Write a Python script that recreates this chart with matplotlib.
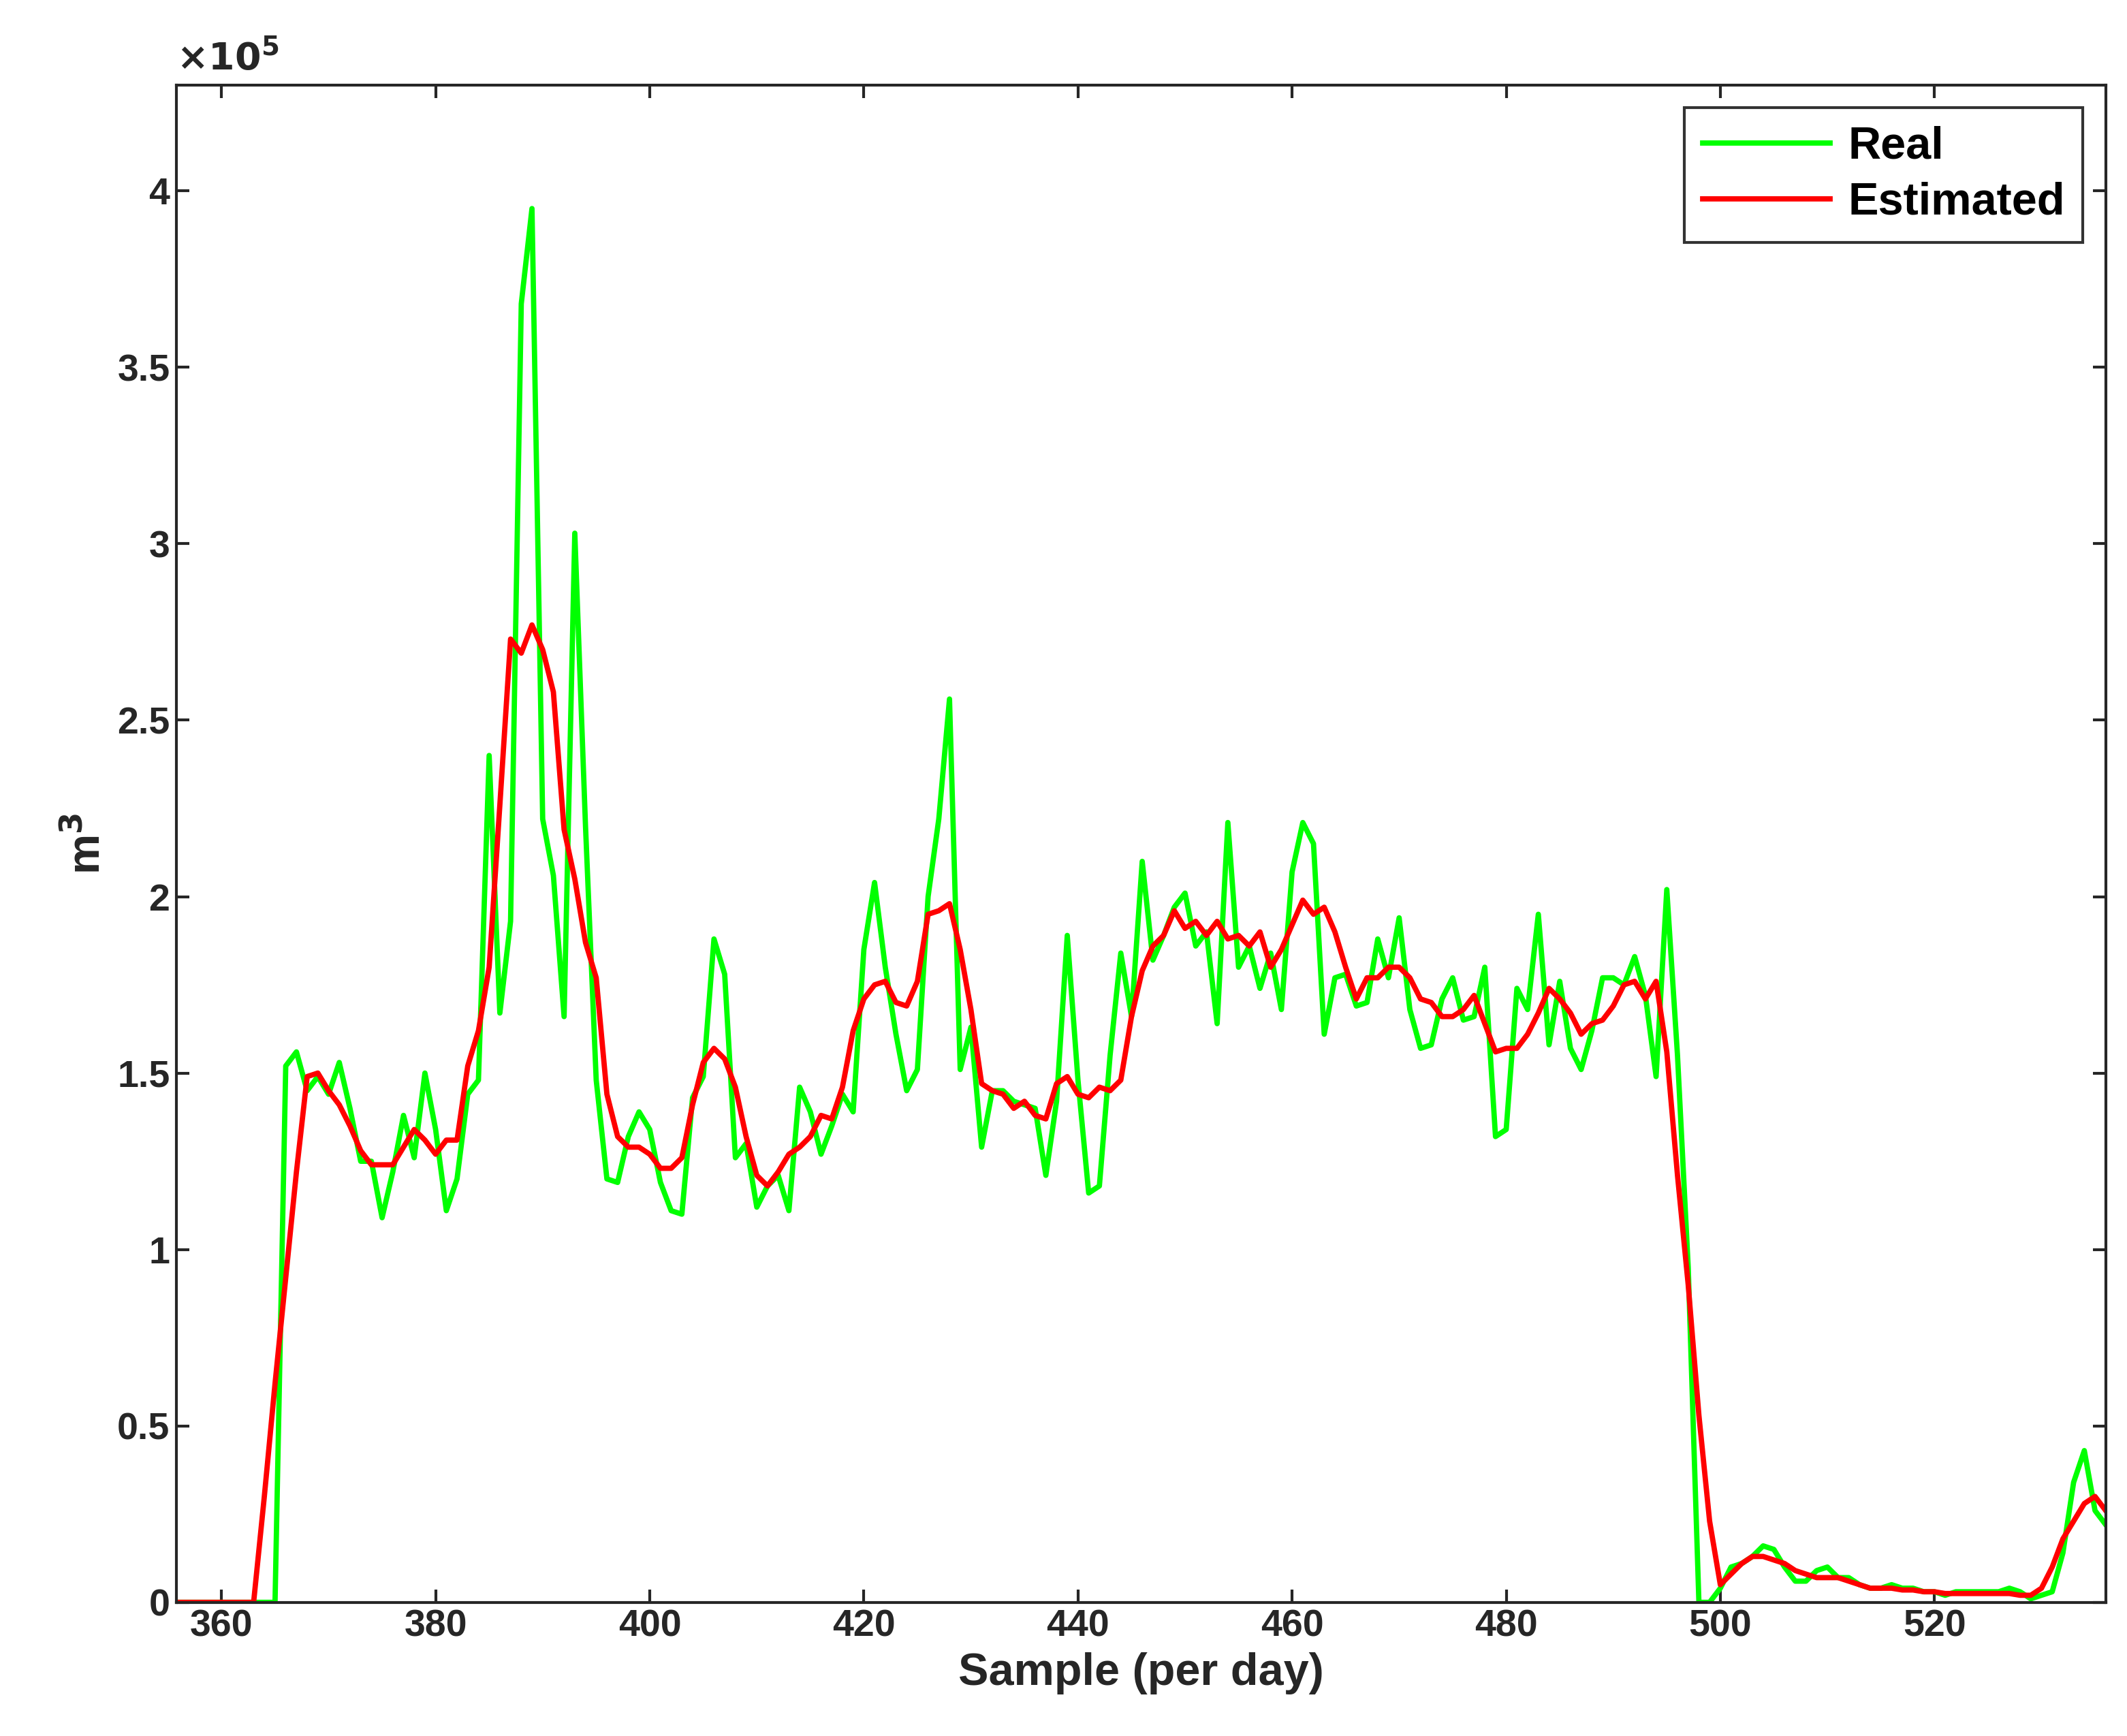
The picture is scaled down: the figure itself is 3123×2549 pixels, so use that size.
import numpy as np
import matplotlib
matplotlib.use('Agg')
import matplotlib.pyplot as plt
from matplotlib.ticker import FuncFormatter

plt.rcParams['font.family'] = ['Liberation Sans', 'DejaVu Sans']
plt.rcParams['font.weight'] = 'bold'

samples = np.arange(356, 537)

# values in units of 1e5 m^3, one per sample 356..536
real = [0]*10 + [
  1.52, 1.56, 1.45, 1.49, 1.44, 1.53, 1.40, 1.25, 1.25, 1.09,   # 366-375
  1.22, 1.38, 1.26, 1.50, 1.34, 1.11, 1.20, 1.44, 1.48, 2.40,   # 376-385
  1.67, 1.93, 3.68, 3.95, 2.22, 2.06, 1.66, 3.03, 2.20, 1.48,   # 386-395
  1.20, 1.19, 1.32, 1.39, 1.34, 1.19, 1.11, 1.10, 1.43, 1.49,   # 396-405
  1.88, 1.78, 1.26, 1.30, 1.12, 1.18, 1.21, 1.11, 1.46, 1.39,   # 406-415
  1.27, 1.35, 1.44, 1.39, 1.85, 2.04, 1.80, 1.61, 1.45, 1.51,   # 416-425
  2.00, 2.22, 2.56, 1.51, 1.63, 1.29, 1.45, 1.45, 1.42, 1.41,   # 426-435
  1.40, 1.21, 1.42, 1.89, 1.48, 1.16, 1.18, 1.55, 1.84, 1.66,   # 436-445
  2.10, 1.82, 1.89, 1.97, 2.01, 1.86, 1.90, 1.64, 2.21, 1.80,   # 446-455
  1.86, 1.74, 1.84, 1.68, 2.07, 2.21, 2.15, 1.61, 1.77, 1.78,   # 456-465
  1.69, 1.70, 1.88, 1.77, 1.94, 1.68, 1.57, 1.58, 1.71, 1.77,   # 466-475
  1.65, 1.66, 1.80, 1.32, 1.34, 1.74, 1.68, 1.95, 1.58, 1.76,   # 476-485
  1.57, 1.51, 1.62, 1.77, 1.77, 1.75, 1.83, 1.72, 1.49, 2.02,   # 486-495
  1.55, 0.95, 0.00, 0.00, 0.04, 0.10, 0.11, 0.13, 0.16, 0.15,   # 496-505
  0.10, 0.06, 0.06, 0.09, 0.10, 0.07, 0.07, 0.05, 0.04, 0.04,   # 506-515
  0.05, 0.04, 0.04, 0.03, 0.03, 0.02, 0.03, 0.03, 0.03, 0.03,   # 516-525
  0.03, 0.04, 0.03, 0.01, 0.02, 0.03, 0.14, 0.34, 0.43, 0.26,   # 526-535
  0.22]                                                          # 536

estimated = [0]*8 + [
  0.30, 0.62, 0.92, 1.22, 1.49, 1.50, 1.45, 1.41, 1.35, 1.28,   # 364-373
  1.24, 1.24, 1.24, 1.29, 1.34, 1.31, 1.27, 1.31, 1.31, 1.52,   # 374-383
  1.62, 1.80, 2.26, 2.73, 2.69, 2.77, 2.70, 2.58, 2.19, 2.05,   # 384-393
  1.87, 1.77, 1.44, 1.32, 1.29, 1.29, 1.27, 1.23, 1.23, 1.26,   # 394-403
  1.41, 1.53, 1.57, 1.54, 1.46, 1.32, 1.21, 1.18, 1.22, 1.27,   # 404-413
  1.29, 1.32, 1.38, 1.37, 1.46, 1.62, 1.71, 1.75, 1.76, 1.70,   # 414-423
  1.69, 1.76, 1.95, 1.96, 1.98, 1.85, 1.68, 1.47, 1.45, 1.44,   # 424-433
  1.40, 1.42, 1.38, 1.37, 1.47, 1.49, 1.44, 1.43, 1.46, 1.45,   # 434-443
  1.48, 1.66, 1.79, 1.86, 1.89, 1.96, 1.91, 1.93, 1.89, 1.93,   # 444-453
  1.88, 1.89, 1.86, 1.90, 1.80, 1.85, 1.92, 1.99, 1.95, 1.97,   # 454-463
  1.90, 1.80, 1.71, 1.77, 1.77, 1.80, 1.80, 1.77, 1.71, 1.70,   # 464-473
  1.66, 1.66, 1.68, 1.72, 1.64, 1.56, 1.57, 1.57, 1.61, 1.67,   # 474-483
  1.74, 1.71, 1.67, 1.61, 1.64, 1.65, 1.69, 1.75, 1.76, 1.71,   # 484-493
  1.76, 1.56, 1.21, 0.90, 0.53, 0.23, 0.05, 0.08, 0.11, 0.13,   # 494-503
  0.13, 0.12, 0.11, 0.09, 0.08, 0.07, 0.07, 0.07, 0.06, 0.05,   # 504-513
  0.04, 0.04, 0.04, 0.035, 0.035, 0.03, 0.03, 0.025, 0.025, 0.025, # 514-523
  0.025, 0.025, 0.025, 0.025, 0.02, 0.02, 0.04, 0.10, 0.18, 0.23, # 524-533
  0.28, 0.30, 0.26]                                              # 534-536

real = np.array(real) * 1e5
estimated = np.array(estimated) * 1e5

fig = plt.figure(figsize=[15.615, 12.745])
ax = fig.add_axes((0.083, 0.077, 0.907, 0.874))
ax.plot(samples, real, color='#00ff00', linewidth=2.8, label='Real')
ax.plot(samples, estimated, color='#ff0000', linewidth=2.8, label='Estimated')

ax.set_xlim([355.8, 536])
ax.set_ylim([0, 4.3e5])
ax.set_xticks(np.arange(360, 521, 20))
ax.set_yticks(np.arange(0, 4.01e5, 0.5e5))
ax.yaxis.set_major_formatter(FuncFormatter(lambda v, p: '%g' % (v / 1e5)))
ax.text(0.0, 1.005, r'$\times10^{5}$', transform=ax.transAxes, fontsize=20,
        fontweight='normal', color='#262626', va='bottom', ha='left')

ax.tick_params(labelsize=20, direction='in', length=7, width=1.5, colors='#262626', top=True, right=True)
for s in ax.spines.values():
  s.set_linewidth(1.5)
  s.set_color('#262626')

ax.set_xlabel('Sample (per day)', fontsize=24, fontweight='bold', color='#262626')
ax.set_ylabel(r'm$^\mathbf{3}$', fontsize=24, fontweight='bold', color='#262626')

leg = ax.legend(loc='upper right', fontsize=24, fancybox=False, edgecolor='black',
                handlelength=2.8, handletextpad=0.4, borderaxespad=0.5, labelspacing=0.3)
leg.get_frame().set_linewidth(1.5)
for t in leg.get_texts():
  t.set_fontweight('bold')

plt.savefig('out.png', dpi=200)
plt.close(fig)
